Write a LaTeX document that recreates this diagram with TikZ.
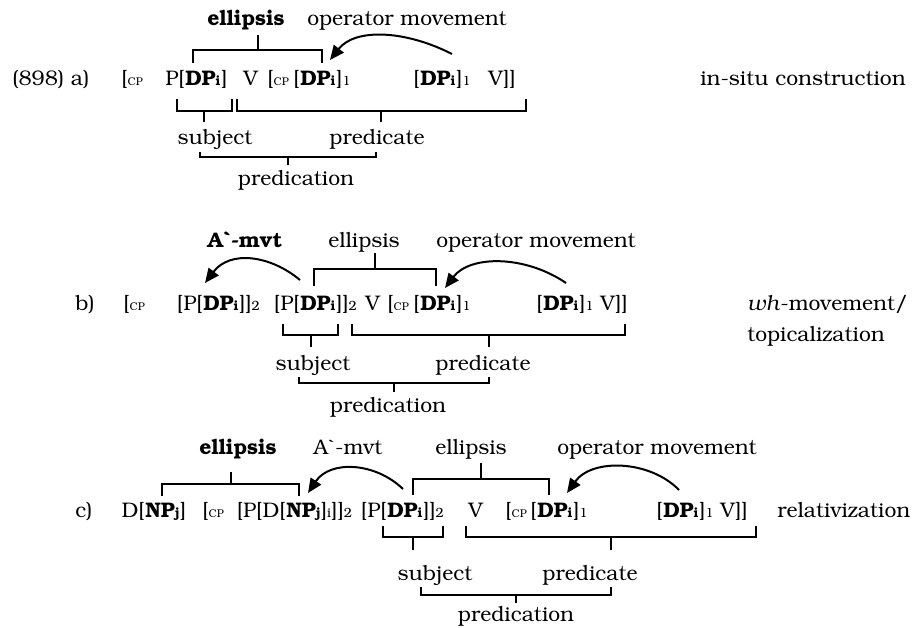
\documentclass[tikz,border=0pt]{standalone}
\usepackage[T1]{fontenc}
\usepackage{bookman}
\usetikzlibrary{arrows.meta, calc}

\newcommand{\lowsub}[1]{{\fontsize{9.5}{9.5}\selectfont #1}}
\newcommand{\cp}{{\fontsize{8}{8}\selectfont CP}}
\newcommand{\DPi}{\textbf{DP}\lowsub{\textbf{i}}}
\newcommand{\NPj}{\textbf{NP}\lowsub{\textbf{j}}}

\begin{document}
\begin{tikzpicture}[x=0.25mm, y=-0.25mm, font=\fontsize{15}{18}\selectfont,
  txt/.style={inner sep=0pt, anchor=base west},
  lbl/.style={inner sep=0pt, anchor=base},
  brk/.style={line width=0.5mm},
  mvt/.style={line width=0.5mm, -{Triangle[length=3.6mm, width=3.1mm]}}]

\useasboundingbox (0,0) rectangle (914,627);

% (898) a) -- in-situ
\node[txt] (exa) at (12,86) {(898) a)};
\node[txt] (cpa1) at (121,86) {[\cp};
\node[txt] (dpa1) at (185,86) {\DPi};
\node[txt, anchor=base east] (pa1) at (dpa1.base west) {P[};
\node[txt] (rba1) at (dpa1.base east) {]};
\node[txt] (va) at (243,86) {V};
\node[txt] (cpa2) at (267,86) {[\cp};
\node[txt] (dpa2) at (300,86) {\DPi};
\node[txt, anchor=base east] (lba2) at (dpa2.base west) {[};
\node[txt] (rba2) at (dpa2.base east) {]\lowsub{1}};
\node[txt] (dpa3) at (420,86) {\DPi};
\node[txt, anchor=base east] (lba3) at (dpa3.base west) {[};
\node[txt] (rba3) at (dpa3.base east) {]\lowsub{1}};
\node[txt] (vva) at (488,86) {V]]};
\node[txt] (insitu) at (700,86) {in-situ construction};

\node[lbl] (ella) at (246,26) {\textbf{ellipsis}};
\node[lbl] (opa) at (407,26) {operator movement};
\node[lbl] (subja) at (215,144) {subject};
\node[lbl] (preda) at (377,144) {predicate};
\node[lbl] (predna) at (296,185) {predication};

\draw[brk] ([shift={(8,-23)}]dpa1.base west) coordinate (e1) -- ++(0,-13) -| ([shift={(22,-23)}]dpa2.base west) coordinate (e2);
\draw[brk] ($(e1)!.5!(e2)+(0,-13)$) -- ++(0,-15);
\draw[mvt] ([shift={(32,-32)}]dpa3.base west) .. controls +(-47,-24) and +(25,-32) .. ([shift={(30,-26)}]dpa2.base west);

\draw[brk] ([shift={(-8,13)}]dpa1.base west) coordinate (s1) -- ++(0,12) -| ([shift={(4,13)}]rba1.base east) coordinate (s2);
\draw[brk] ($(s1)!.5!(s2)+(0,12)$) -- ++(0,11);
\draw[brk] ([shift={(-6,13)}]va.base west) coordinate (p1) -- ++(0,12) -| ([shift={(10,13)}]vva.base east) coordinate (p2);
\draw[brk] ($(p1)!.5!(p2)+(0,12)$) -- ++(0,11);
\draw[brk] ([shift={(-15,8)}]subja.base) coordinate (q1) -- ++(0,5) -| ([shift={(-1,8)}]preda.base) coordinate (q2);
\draw[brk] ($(q1)!.5!(q2)+(0,5)$) -- ++(0,8);

% b) -- wh-movement / topicalization
\node[txt] (exb) at (75,310) {b)};
\node[txt] (cpb1) at (123,310) {[\cp};
\node[txt] (dpb1) at (203,310) {\DPi};
\node[txt, anchor=base east] (pb1) at (dpb1.base west) {[P[};
\node[txt] (rbb1) at (dpb1.base east) {]]\lowsub{2}};
\node[txt] (dpb2) at (300,310) {\DPi};
\node[txt, anchor=base east] (pb2) at (dpb2.base west) {[P[};
\node[txt] (rbb2) at (dpb2.base east) {]]\lowsub{2}};
\node[txt] (vb) at (365,310) {V};
\node[txt] (cpb2) at (387,310) {[\cp};
\node[txt] (dpb3) at (420,310) {\DPi};
\node[txt, anchor=base east] (lbb3) at (dpb3.base west) {[};
\node[txt] (rbb3) at (dpb3.base east) {]\lowsub{1}};
\node[txt] (dpb4) at (543,310) {\DPi};
\node[txt, anchor=base east] (lbb4) at (dpb4.base west) {[};
\node[txt] (rbb4) at (dpb4.base east) {]\lowsub{1} V]]};
\node[txt] (whmv) at (747,310) {\textit{wh}-movement/};
\node[txt] (topic) at (747,341) {topicalization};

\node[lbl] (amvb) at (245,247) {\textbf{A\`{}-mvt}};
\node[lbl] (ellb) at (364,247) {ellipsis};
\node[lbl] (opb) at (536,247) {operator movement};
\node[lbl] (subjb) at (313,370) {subject};
\node[lbl] (predb) at (483,370) {predicate};
\node[lbl] (prednb) at (388,412) {predication};

\draw[mvt] ([shift={(0,-30)}]dpb2.base west) .. controls +(-30,-25) and +(25,-33) .. ([shift={(2,-27)}]dpb1.base west);
\draw[brk] ([shift={(14,-24)}]dpb2.base west) coordinate (e1) -- ++(0,-17) -| ([shift={(16,-24)}]dpb3.base west) coordinate (e2);
\draw[brk] ($(e1)!.5!(e2)+(0,-17)$) -- ++(0,-16);
\draw[mvt] ([shift={(23,-27)}]dpb4.base west) .. controls +(-41,-28) and +(25,-33) .. ([shift={(25,-22)}]dpb3.base west);

\draw[brk] ([shift={(-17,14)}]dpb2.base west) coordinate (s1) -- ++(0,11) -| ([shift={(38,14)}]dpb2.base west) coordinate (s2);
\draw[brk] ($(s1)!.5!(s2)+(0,11)$) -- ++(0,12);
\draw[brk] ([shift={(-13,14)}]vb.base west) coordinate (p1) -- ++(0,11) -| ([shift={(-3,14)}]rbb4.base east) coordinate (p2);
\draw[brk] ($(p1)!.5!(p2)+(0,11)$) -- ++(0,12);
\draw[brk] ([shift={(-14,7)}]subjb.base) coordinate (q1) -- ++(0,6) -| ([shift={(6,7)}]predb.base) coordinate (q2);
\draw[brk] ($(q1)!.5!(q2)+(0,6)$) -- ++(0,9);

% c) -- relativization
\node[txt] (exc) at (75,517) {c)};
\node[txt] (npc1) at (145,517) {\NPj};
\node[txt, anchor=base east] (dc1) at (npc1.base west) {D[};
\node[txt] (rbc1) at (npc1.base east) {]};
\node[txt] (cpc1) at (202,517) {[\cp};
\node[txt] (npc2) at (286,517) {\NPj};
\node[txt, anchor=base east] (pc2) at (npc2.base west) {[P[D[};
\node[txt] (rbc2) at (npc2.base east) {]\lowsub{i}]]\lowsub{2}};
\node[txt] (dpc1) at (387,517) {\DPi};
\node[txt, anchor=base east] (pc3) at (dpc1.base west) {[P[};
\node[txt] (rbc3) at (dpc1.base east) {]]\lowsub{2}};
\node[txt] (vc) at (468,517) {V};
\node[txt] (cpc2) at (505,517) {[\cp};
\node[txt] (dpc2) at (537,517) {\DPi};
\node[txt, anchor=base east] (lbc2) at (dpc2.base west) {[};
\node[txt] (rbc4) at (dpc2.base east) {]\lowsub{1}};
\node[txt] (dpc3) at (663,517) {\DPi};
\node[txt, anchor=base east] (lbc3) at (dpc3.base west) {[};
\node[txt] (rbc5) at (dpc3.base east) {]\lowsub{1}};
\node[txt] (vvc) at (720,517) {V]]};
\node[txt] (reltv) at (777,517) {relativization};

\node[lbl] (ellc1) at (238,454) {\textbf{ellipsis}};
\node[lbl] (amvc) at (348,454) {A\`{}-mvt};
\node[lbl] (ellc2) at (471,454) {ellipsis};
\node[lbl] (opc) at (657,454) {operator movement};
\node[lbl] (subjc) at (435,580) {subject};
\node[lbl] (predc) at (590,580) {predicate};
\node[lbl] (prednc) at (516,621) {predication};

\draw[brk] ([shift={(17,-21)}]npc1.base west) coordinate (e1) -- ++(0,-12) -| ([shift={(13,-21)}]npc2.base west) coordinate (e2);
\draw[brk] ($(e1)!.5!(e2)+(0,-12)$) -- ++(0,-12);
\draw[mvt] ([shift={(16,-28)}]dpc1.base west) .. controls +(-28,-27) and +(22,-33) .. ([shift={(22,-24)}]npc2.base west);
\draw[brk] ([shift={(26,-22)}]dpc1.base west) coordinate (e1) -- ++(0,-16) -| ([shift={(12,-22)}]dpc2.base west) coordinate (e2);
\draw[brk] ($(e1)!.5!(e2)+(0,-16)$) -- ++(0,-16);
\draw[mvt] ([shift={(16,-27)}]dpc3.base west) .. controls +(-29,-30) and +(25,-35) .. ([shift={(30,-24)}]dpc2.base west);

\draw[brk] ([shift={(-4,9)}]dpc1.base west) coordinate (s1) -- ++(0,11) -| ([shift={(-1,9)}]rbc3.base east) coordinate (s2);
\draw[brk] ($(s1)!.5!(s2)+(0,11)$) -- ++(0,13);
\draw[brk] ([shift={(-2,9)}]vc.base west) coordinate (p1) -- ++(0,11) -| ([shift={(8,9)}]vvc.base east) coordinate (p2);
\draw[brk] ($(p1)!.5!(p2)+(0,11)$) -- ++(0,13);
\draw[brk] ([shift={(-14,7)}]subjc.base) coordinate (q1) -- ++(0,8) -| ([shift={(21,7)}]predc.base) coordinate (q2);
\draw[brk] ($(q1)!.5!(q2)+(0,8)$) -- ++(0,8);

\end{tikzpicture}
\end{document}
